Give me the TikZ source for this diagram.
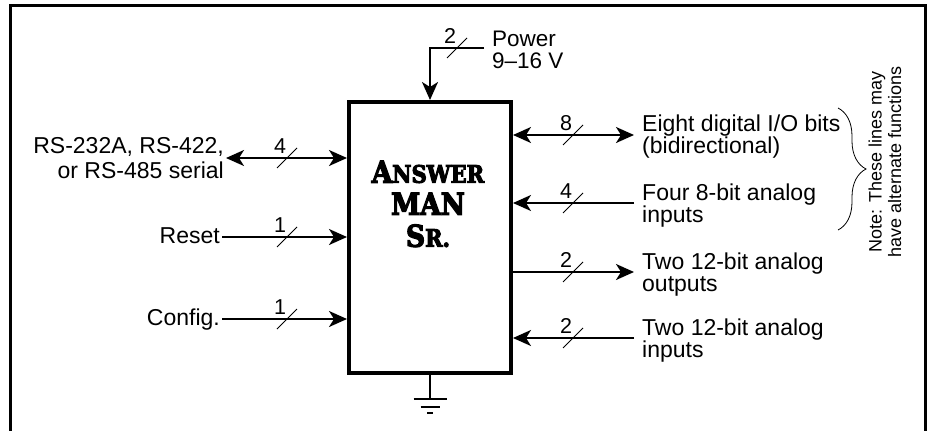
\documentclass[tikz,border=0pt]{standalone}
\usepackage{fontspec}
\setmainfont{Liberation Sans}
\newfontfamily\titlefont{DejaVu Serif}[BoldFeatures={FakeBold=4,FakeStretch=0.88}]
\usetikzlibrary{arrows.meta,decorations.pathreplacing,calc}
\newcommand\busmark[3]{%
  \draw[slashline] ($(#1)+(-10,10)$) -- ($(#1)+(10,-10)$);
  \node[numlbl] (#3) at ($(#1)+(-7,-12)$) {#2};}
\begin{document}
\begin{tikzpicture}[x=1pt,y=-1pt,
  >={Stealth[length=18pt,width=16pt,inset=5pt]},
  conn/.style={line width=2pt},
  slashline/.style={line width=1pt},
  numlbl/.style={inner sep=0pt,font=\fontsize{21.5}{22}\selectfont},
  rtext/.style={anchor=west,align=left,inner ysep=0pt,inner xsep=8pt,font=\fontsize{23}{22}\selectfont},
  ltext/.style={anchor=east,align=right,inner ysep=0pt,inner xsep=2pt,font=\fontsize{23}{25}\selectfont},
  sltext/.style={anchor=east,inner ysep=0pt,inner xsep=2pt,text height=16pt,text depth=4pt,font=\fontsize{23}{25}\selectfont},
  gnd/.style={line width=2pt}
]
\useasboundingbox (0,0) rectangle (927,431);
% outer frame (open at bottom)
\draw[line width=3pt] (10,431) -- (10,5.5) -- (925.5,5.5) -- (925.5,431);

% main block
\node[draw,line width=4pt,minimum width=162pt,minimum height=271pt,inner sep=0pt] (box) at (430,237.5) {};
\node[align=center,inner sep=0pt,font=\titlefont\bfseries\fontsize{24}{32}\selectfont] (title) at (428,204)
 {{\fontsize{30}{32}\selectfont A}NSWER\\{\fontsize{30}{32}\selectfont MAN}\\{\fontsize{30}{32}\selectfont S}R.};

% power
\node[anchor=west,align=left,inner ysep=0pt,inner xsep=8pt,font=\fontsize{22.5}{21.5}\selectfont] (power) at (484,50) {Power\\9--16 V};
\coordinate (pw) at (484,48);
\draw[conn,->] (pw) -| (box.north);
\coordinate (ps) at (457,48);
\busmark{ps}{2}{lp}

% right side
\node[rtext] (t1) at (634,137) {Eight digital I/O bits\\(bidirectional)};
\node[rtext] (t2) at (634,206) {Four 8-bit analog\\inputs};
\node[rtext] (t3) at (634,275) {Two 12-bit analog\\outputs};
\node[rtext] (t4) at (634,341) {Two 12-bit analog\\inputs};
\coordinate (e1) at (634,135);
\coordinate (e2) at (634,203);
\coordinate (e3) at (634,272);
\coordinate (e4) at (634,338);
\draw[conn,<->] (box.east |- e1) -- (e1);
\draw[conn,->] (e2) -- (box.east |- e2);
\draw[conn,->] (box.east |- e3) -- (e3);
\draw[conn,->] (e4) -- (box.east |- e4);
\coordinate (s1) at (573,135);
\coordinate (s2) at (573,203);
\coordinate (s3) at (573,272);
\coordinate (s4) at (573,338);
\busmark{s1}{8}{l1}
\busmark{s2}{4}{l2}
\busmark{s3}{2}{l3}
\busmark{s4}{2}{l4}

% left side
\node[ltext] (serial) at (226,158) {RS-232A, RS-422,\\or RS-485 serial};
\node[sltext] (reset) at (222,237) {Reset};
\node[sltext] (config) at (222,319) {Config.};
\coordinate (w1) at (226,158);
\draw[conn,<->] (w1) -- (box.west |- w1);
\draw[conn,->] (reset.east) -- (box.west |- reset.east);
\draw[conn,->] (config.east) -- (box.west |- config.east);
\coordinate (s5) at (287,158);
\coordinate (s6) at (287,237);
\coordinate (s7) at (287,319);
\busmark{s5}{4}{l5}
\busmark{s6}{1}{l6}
\busmark{s7}{1}{l7}

% ground
\coordinate (g) at (430,399);
\draw[gnd] (box.south) -- (g);
\draw[gnd] ($(g)+(-16.5,0)$) -- ($(g)+(16.5,0)$);
\draw[gnd] ($(g)+(-9.5,8)$) -- ($(g)+(9.5,8)$);
\draw[gnd] ($(g)+(-3,14)$) -- ($(g)+(3,14)$);

% brace and note
\draw[line width=0.8pt,decorate,decoration={brace,amplitude=28pt}] (838,108) -- (838,230);
\node[rotate=90,align=center,inner sep=0pt,font=\fontsize{18}{19.5}\selectfont] (note) at (885,162) {Note: These lines may\\have alternate functions};
\end{tikzpicture}
\end{document}
